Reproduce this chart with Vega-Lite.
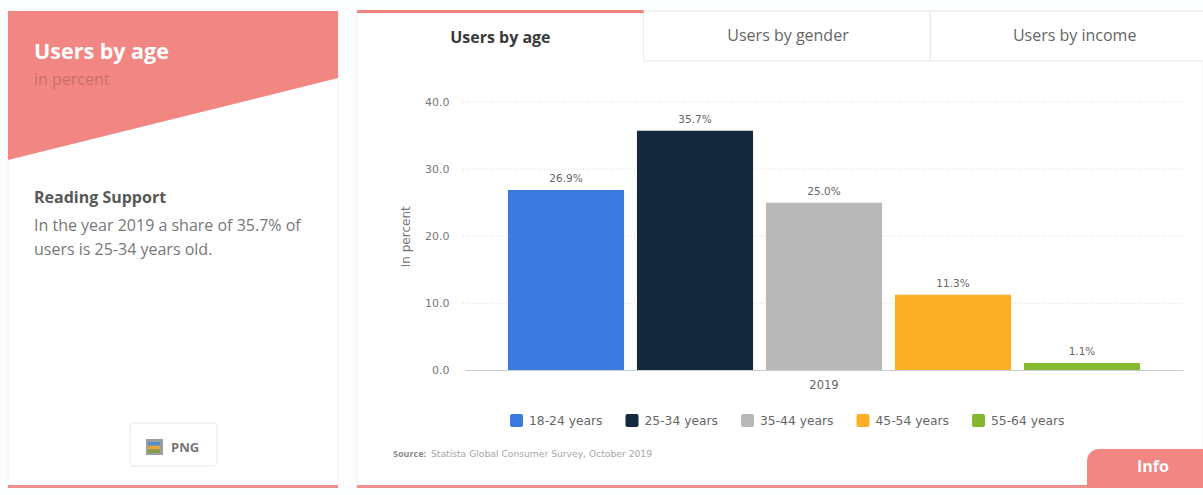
{
  "$schema": "https://vega.github.io/schema/vega-lite/v6.json",
  "width": 1203,
  "height": 495,
  "padding": 0,
  "autosize": {"type": "none"},
  "background": "#fcfdfe",
  "config": {"view": {"stroke": null}, "font": "Open Sans"},
  "resolve": {
    "scale": {"x": "independent", "y": "independent", "color": "independent"},
    "axis": {"x": "independent", "y": "independent"},
    "legend": {"color": "independent"}
  },
  "layer": [
    {
      "description": "Summary card",
      "data": {"values": [{"card": "summary"}]},
      "mark": {"type": "rect", "fill": "#ffffff", "stroke": "#eff0f3", "strokeWidth": 1},
      "encoding": {
        "x": {"datum": 0, "scale": {"domain": [0, 1], "range": [8, 338]}, "axis": null},
        "x2": {"datum": 1},
        "y": {"datum": 0, "scale": {"domain": [0, 1], "range": [11, 486]}, "axis": null},
        "y2": {"datum": 1}
      }
    },
    {
      "description": "Chart card",
      "data": {"values": [{"card": "chart"}]},
      "mark": {"type": "rect", "fill": "#ffffff", "stroke": "#eff0f3", "strokeWidth": 1},
      "encoding": {
        "x": {"datum": 0, "scale": {"domain": [0, 1], "range": [357, 1203]}, "axis": null},
        "x2": {"datum": 1},
        "y": {"datum": 0, "scale": {"domain": [0, 1], "range": [11, 486]}, "axis": null},
        "y2": {"datum": 1}
      }
    },
    {
      "description": "Slanted banner of the summary card",
      "data": {"values": [{"across": 0, "drop": 1}, {"across": 1, "drop": 0.45}]},
      "mark": {"type": "area", "orient": "vertical", "fill": "#f28683"},
      "encoding": {
        "x": {"field": "across", "type": "quantitative", "scale": {"domain": [0, 1], "range": [8, 338]}, "axis": null},
        "y": {"field": "drop", "type": "quantitative", "scale": {"domain": [0, 1], "range": [11, 160]}, "axis": null},
        "y2": {"datum": 0}
      }
    },
    {
      "description": "Accent line under the summary card",
      "data": {"values": [{"line": "summary foot"}]},
      "mark": {"type": "rect", "fill": "#f0908c"},
      "encoding": {
        "x": {"datum": 0, "scale": {"domain": [0, 1], "range": [8, 338]}, "axis": null},
        "x2": {"datum": 1},
        "y": {"datum": 0, "scale": {"domain": [0, 1], "range": [485, 488]}, "axis": null},
        "y2": {"datum": 1}
      }
    },
    {
      "description": "Accent line under the chart card",
      "data": {"values": [{"line": "chart foot"}]},
      "mark": {"type": "rect", "fill": "#f0908c"},
      "encoding": {
        "x": {"datum": 0, "scale": {"domain": [0, 1], "range": [357, 1203]}, "axis": null},
        "x2": {"datum": 1},
        "y": {"datum": 0, "scale": {"domain": [0, 1], "range": [485, 488]}, "axis": null},
        "y2": {"datum": 1}
      }
    },
    {
      "description": "Inactive tabs",
      "data": {"values": [{"tab": "Users by gender"}, {"tab": "Users by income"}]},
      "mark": {"type": "rect", "fill": "#ffffff", "stroke": "#e6e8ea", "strokeWidth": 1, "clip": true},
      "encoding": {
        "x": {"field": "tab", "type": "nominal", "scale": {"type": "band", "domain": ["Users by age", "Users by gender", "Users by income"], "range": [357, 1217], "padding": 0}, "axis": null},
        "y": {"datum": 0, "scale": {"domain": [0, 1], "range": [11, 61]}, "axis": null},
        "y2": {"datum": 1}
      }
    },
    {
      "description": "Accent line over the active tab",
      "data": {"values": [{"tab": "Users by age"}]},
      "mark": {"type": "rect", "fill": "#f0857f"},
      "encoding": {
        "x": {"field": "tab", "type": "nominal", "scale": {"type": "band", "domain": ["Users by age", "Users by gender", "Users by income"], "range": [357, 1217], "padding": 0}, "axis": null},
        "y": {"datum": 0, "scale": {"domain": [0, 1], "range": [10, 13]}, "axis": null},
        "y2": {"datum": 1}
      }
    },
    {
      "description": "Active tab label",
      "data": {"values": [{"tab": "Users by age"}]},
      "mark": {"type": "text", "font": "Open Sans", "fontSize": 16, "fontWeight": "bold", "fill": "#3a3a3a", "baseline": "middle", "align": "center"},
      "encoding": {
        "x": {"field": "tab", "type": "nominal", "scale": {"type": "band", "domain": ["Users by age", "Users by gender", "Users by income"], "range": [357, 1217], "padding": 0}, "axis": null},
        "y": {"datum": 0, "scale": {"domain": [0, 1], "range": [38, 39]}, "axis": null},
        "text": {"field": "tab"}
      }
    },
    {
      "description": "Inactive tab labels",
      "data": {"values": [{"tab": "Users by gender"}, {"tab": "Users by income"}]},
      "mark": {"type": "text", "font": "Open Sans", "fontSize": 16, "fill": "#666666", "baseline": "middle", "align": "center"},
      "encoding": {
        "x": {"field": "tab", "type": "nominal", "scale": {"type": "band", "domain": ["Users by age", "Users by gender", "Users by income"], "range": [358, 1218], "padding": 0}, "axis": null},
        "y": {"datum": 0, "scale": {"domain": [0, 1], "range": [36, 37]}, "axis": null},
        "text": {"field": "tab"}
      }
    },
    {
      "description": "Summary heading",
      "data": {"values": [{"copy": "Users by age"}]},
      "mark": {"type": "text", "font": "Open Sans", "fontSize": 21.5, "fontWeight": "bold", "fill": "#ffffff", "baseline": "middle", "align": "left"},
      "encoding": {
        "x": {"datum": 0, "scale": {"domain": [0, 1], "range": [34, 35]}, "axis": null},
        "y": {"datum": 0, "scale": {"domain": [0, 1], "range": [53, 54]}, "axis": null},
        "text": {"field": "copy"}
      }
    },
    {
      "description": "Summary unit",
      "data": {"values": [{"copy": "in percent"}]},
      "mark": {"type": "text", "font": "Open Sans", "fontSize": 16, "fill": "#c9706c", "baseline": "middle", "align": "left"},
      "encoding": {
        "x": {"datum": 0, "scale": {"domain": [0, 1], "range": [34, 35]}, "axis": null},
        "y": {"datum": 0, "scale": {"domain": [0, 1], "range": [80, 81]}, "axis": null},
        "text": {"field": "copy"}
      }
    },
    {
      "description": "Reading support heading",
      "data": {"values": [{"copy": "Reading Support"}]},
      "mark": {"type": "text", "font": "Open Sans", "fontSize": 16, "fontWeight": "bold", "fill": "#585858", "baseline": "middle", "align": "left"},
      "encoding": {
        "x": {"datum": 0, "scale": {"domain": [0, 1], "range": [34, 35]}, "axis": null},
        "y": {"datum": 0, "scale": {"domain": [0, 1], "range": [198, 199]}, "axis": null},
        "text": {"field": "copy"}
      }
    },
    {
      "description": "Reading support sentence, one row per line",
      "data": {"values": [{"copy": "In the year 2019 a share of 35.7% of"}, {"copy": "users is 25-34 years old."}]},
      "mark": {"type": "text", "font": "Open Sans", "fontSize": 16, "fill": "#777777", "baseline": "middle", "align": "left"},
      "encoding": {
        "x": {"datum": 0, "scale": {"domain": [0, 1], "range": [34, 35]}, "axis": null},
        "y": {"field": "copy", "type": "nominal", "sort": null, "scale": {"type": "point", "range": [226, 250], "padding": 0}, "axis": null},
        "text": {"field": "copy"}
      }
    },
    {
      "description": "PNG download button",
      "data": {"values": [{"button": "PNG"}]},
      "mark": {"type": "rect", "fill": "#ffffff", "stroke": "#e4e6e8", "strokeWidth": 1, "cornerRadius": 3},
      "encoding": {
        "x": {"datum": 0, "scale": {"domain": [0, 1], "range": [130, 217]}, "axis": null},
        "x2": {"datum": 1},
        "y": {"datum": 0, "scale": {"domain": [0, 1], "range": [423, 466]}, "axis": null},
        "y2": {"datum": 1}
      }
    },
    {
      "description": "Back sheet of the picture icon",
      "data": {"values": [{"icon": "frame"}]},
      "mark": {"type": "rect", "fill": "#9aa0a0"},
      "encoding": {
        "x": {"datum": 0, "scale": {"domain": [0, 1], "range": [146, 163]}, "axis": null},
        "x2": {"datum": 1},
        "y": {"datum": 0, "scale": {"domain": [0, 1], "range": [439, 455]}, "axis": null},
        "y2": {"datum": 1}
      }
    },
    {
      "description": "Picture icon stripes: sky, sand and grass",
      "data": {"values": [{"stripe": "sky"}, {"stripe": "sand"}, {"stripe": "grass"}]},
      "mark": {"type": "rect"},
      "encoding": {
        "x": {"datum": 0, "scale": {"domain": [0, 1], "range": [148, 160]}, "axis": null},
        "x2": {"datum": 1},
        "y": {"field": "stripe", "type": "nominal", "scale": {"type": "band", "domain": ["sky", "sand", "grass"], "range": [442, 453], "padding": 0}, "axis": null},
        "color": {"field": "stripe", "type": "nominal", "scale": {"domain": ["sky", "sand", "grass"], "range": ["#4f8fd0", "#e0a83a", "#8a9a4a"]}, "legend": null}
      }
    },
    {
      "description": "PNG button label",
      "data": {"values": [{"copy": "PNG"}]},
      "mark": {"type": "text", "font": "Open Sans", "fontSize": 13, "fontWeight": "bold", "fill": "#777777", "baseline": "middle", "align": "left"},
      "encoding": {
        "x": {"datum": 0, "scale": {"domain": [0, 1], "range": [171, 172]}, "axis": null},
        "y": {"datum": 0, "scale": {"domain": [0, 1], "range": [448, 449]}, "axis": null},
        "text": {"field": "copy"}
      }
    },
    {
      "description": "Dotted gridlines",
      "data": {"values": [{"tick": 10}, {"tick": 20}, {"tick": 30}, {"tick": 40}]},
      "mark": {"type": "rule", "stroke": "#dcdcdc", "strokeWidth": 1, "strokeDash": [1, 2]},
      "encoding": {
        "x": {"datum": 0, "scale": {"domain": [0, 1], "range": [463, 1181]}, "axis": null},
        "x2": {"datum": 1},
        "y": {"field": "tick", "type": "quantitative", "scale": {"domain": [0, 40], "range": [370.5, 102]}, "axis": null}
      }
    },
    {
      "description": "Share of users per age group in 2019, with axes and legend",
      "data": {
        "values": [
          {"year": "2019", "age": "18-24 years", "share": 26.9, "label": "26.9%"},
          {"year": "2019", "age": "25-34 years", "share": 35.7, "label": "35.7%"},
          {"year": "2019", "age": "35-44 years", "share": 25.0, "label": "25.0%"},
          {"year": "2019", "age": "45-54 years", "share": 11.3, "label": "11.3%"},
          {"year": "2019", "age": "55-64 years", "share": 1.1, "label": "1.1%"}
        ]
      },
      "encoding": {
        "x": {
          "field": "year",
          "type": "nominal",
          "scale": {"type": "band", "domain": ["2019"], "range": [465, 1183], "padding": 0},
          "axis": {
            "orient": "bottom",
            "offset": -125,
            "zindex": 1,
            "title": null,
            "labelAngle": 0,
            "labelFont": "DejaVu Sans",
            "labelFontSize": 11.5,
            "labelColor": "#666666",
            "labelPadding": 9,
            "ticks": false,
            "domainColor": "#c4ccd4",
            "domainWidth": 1,
            "grid": false
          }
        },
        "xOffset": {
          "field": "age",
          "type": "nominal",
          "scale": {
            "domain": ["18-24 years", "25-34 years", "35-44 years", "45-54 years", "55-64 years"],
            "paddingInner": 0.1,
            "paddingOuter": 0.333
          }
        },
        "y": {
          "field": "share",
          "type": "quantitative",
          "scale": {"domain": [0, 40], "range": [370.5, 102]},
          "axis": {
            "orient": "left",
            "offset": -465,
            "zindex": 1,
            "values": [0, 10, 20, 30, 40],
            "format": ".1f",
            "title": "In percent",
            "titleFont": "DejaVu Sans",
            "titleFontSize": 12,
            "titleFontWeight": "normal",
            "titleColor": "#777777",
            "titlePadding": 12,
            "labelFont": "DejaVu Sans",
            "labelFontSize": 11,
            "labelColor": "#777777",
            "labelPadding": 16,
            "ticks": false,
            "domain": false,
            "grid": false
          }
        }
      },
      "layer": [
        {
          "mark": {"type": "bar", "stroke": null},
          "encoding": {
            "color": {
              "field": "age",
              "type": "nominal",
              "scale": {
                "domain": ["18-24 years", "25-34 years", "35-44 years", "45-54 years", "55-64 years"],
                "range": ["#3b7ade", "#14283e", "#b8b8b8", "#fcae26", "#84b82e"]
              },
              "legend": {
                "orient": "none",
                "legendX": 510,
                "legendY": 414,
                "direction": "horizontal",
                "columns": 5,
                "title": null,
                "symbolType": "M-0.7,-1H0.7Q1,-1 1,-0.7V0.7Q1,1 0.7,1H-0.7Q-1,1 -1,0.7V-0.7Q-1,-1 -0.7,-1Z",
                "symbolSize": 169,
                "symbolStrokeWidth": 0,
                "labelFont": "DejaVu Sans",
                "labelFontSize": 12.3,
                "labelColor": "#666666",
                "labelOffset": 6,
                "columnPadding": 22.5
              }
            }
          }
        },
        {
          "mark": {"type": "text", "font": "DejaVu Sans", "fontSize": 10.5, "fill": "#666666", "baseline": "bottom", "dy": -6},
          "encoding": {"text": {"field": "label"}}
        }
      ]
    },
    {
      "description": "Source line, bold lead",
      "data": {"values": [{"copy": "Source:"}]},
      "mark": {"type": "text", "font": "Open Sans", "fontSize": 9, "fontWeight": "bold", "fill": "#8a8a8a", "baseline": "middle", "align": "left"},
      "encoding": {
        "x": {"datum": 0, "scale": {"domain": [0, 1], "range": [393, 394]}, "axis": null},
        "y": {"datum": 0, "scale": {"domain": [0, 1], "range": [454, 455]}, "axis": null},
        "text": {"field": "copy"}
      }
    },
    {
      "description": "Source line, reference",
      "data": {"values": [{"copy": "Statista Global Consumer Survey, October 2019"}]},
      "mark": {"type": "text", "font": "DejaVu Sans", "fontSize": 9.2, "fill": "#a6a6a6", "baseline": "middle", "align": "left"},
      "encoding": {
        "x": {"datum": 0, "scale": {"domain": [0, 1], "range": [431, 432]}, "axis": null},
        "y": {"datum": 0, "scale": {"domain": [0, 1], "range": [454, 455]}, "axis": null},
        "text": {"field": "copy"}
      }
    },
    {
      "description": "Info tab",
      "data": {"values": [{"button": "Info"}]},
      "mark": {"type": "rect", "fill": "#f28683", "cornerRadiusTopLeft": 12},
      "encoding": {
        "x": {"datum": 0, "scale": {"domain": [0, 1], "range": [1087, 1203]}, "axis": null},
        "x2": {"datum": 1},
        "y": {"datum": 0, "scale": {"domain": [0, 1], "range": [449, 488]}, "axis": null},
        "y2": {"datum": 1}
      }
    },
    {
      "description": "Info tab label",
      "data": {"values": [{"copy": "Info"}]},
      "mark": {"type": "text", "font": "Open Sans", "fontSize": 16, "fontWeight": "bold", "fill": "#ffffff", "baseline": "middle", "align": "center"},
      "encoding": {
        "x": {"datum": 0, "scale": {"domain": [0, 1], "range": [1153, 1154]}, "axis": null},
        "y": {"datum": 0, "scale": {"domain": [0, 1], "range": [467, 468]}, "axis": null},
        "text": {"field": "copy"}
      }
    }
  ]
}
